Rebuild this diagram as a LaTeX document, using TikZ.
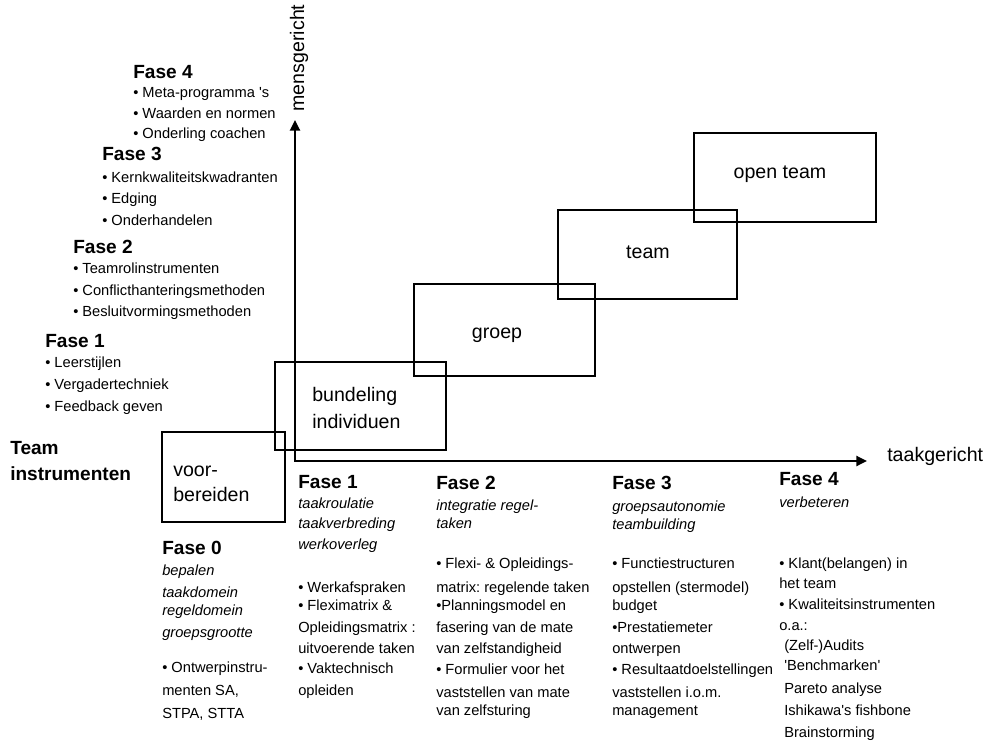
\documentclass[tikz,border=0pt]{standalone}
\usepackage{fontspec}
\setmainfont{Liberation Sans}
\usetikzlibrary{arrows.meta,fit}
\frenchspacing
% one text line per entry: #1 name prefix, #2 x, #3 style, #4 list of y/text
\newcommand\txtcol[4]{%
  \foreach \ly/\lt [count=\li] in {#4} {\node[#3] (#1-\li) at (#2,\ly) {\lt};}}
\newcommand\sq{\textquotesingle}
\begin{document}
\begin{tikzpicture}[x=0.75pt,y=-0.75pt,
  item/.style={anchor=base west, inner sep=0pt, font=\fontsize{11}{13}\selectfont, yshift=-3.75pt},
  ital/.style={item, font=\fontsize{11}{13}\selectfont\itshape},
  head/.style={anchor=base west, inner sep=0pt, font=\fontsize{14.3}{17}\selectfont\bfseries, yshift=-5.25pt},
  lbl/.style={anchor=base west, inner sep=0pt, font=\fontsize{14.7}{17}\selectfont, yshift=-4.5pt},
  clbl/.style={lbl, anchor=base},
  phasebox/.style={draw, line width=0.8pt, inner sep=0pt},
  axis/.style={line width=1.7pt, line join=miter,
    {Triangle[length=8pt,width=7.5pt]}-{Triangle[length=8pt,width=7.5pt]}}]
\useasboundingbox (0,0) rectangle (990,742);
\fill[white] (0,0) rectangle (990,742);

% phase boxes
\path (162,432) coordinate (vb1) (285,522) coordinate (vb2);
\node[phasebox, fit=(vb1)(vb2)] (voorbereiden) {};
\path (275,362) coordinate (bi1) (446,450) coordinate (bi2);
\node[phasebox, fit=(bi1)(bi2)] (bundeling) {};
\path (414,284) coordinate (gr1) (595,376) coordinate (gr2);
\node[phasebox, fit=(gr1)(gr2)] (groep) {};
\path (558,210) coordinate (tm1) (737,299) coordinate (tm2);
\node[phasebox, fit=(tm1)(tm2)] (team) {};
\path (694,133) coordinate (ot1) (876,222) coordinate (ot2);
\node[phasebox, fit=(ot1)(ot2)] (openteam) {};

% box labels
\node[lbl] (vb-l1) at (173,470) {voor-};
\node[lbl] (vb-l2) at (173,495) {bereiden};
\node[lbl] (bi-l1) at (312,395) {bundeling};
\node[lbl] (bi-l2) at (312,422) {individuen};
\node[clbl] (gr-l) at (497,332) {groep};
\node[clbl] (tm-l) at (648,252) {team};
\node[clbl] (ot-l) at (780,173) {open team};

% axes
\coordinate (O) at (295,461);
\coordinate (ytip) at (295,120);
\coordinate (xtip) at (867,461);
\draw[axis] (ytip) -- (O) -- (xtip);
\node[lbl] (taakgericht) at (887,455) {taakgericht};
\node[rotate=90, inner sep=0pt, font=\fontsize{14.7}{17}\selectfont] (mensgericht) at (299,58) {mensgericht};

% team instruments per phase (left column)
\node[head] (ti-h1) at (10,447) {Team};
\node[head] (ti-h2) at (10,473) {instrumenten};

\node[head] (l4-h) at (133,72) {Fase 4};
\txtcol{l4}{133}{item}{93/{• Meta-programma \sq s}, 113/{• Waarden en normen}, 134/{• Onderling coachen}}
\node[head] (l3-h) at (102,154) {Fase 3};
\txtcol{l3}{102}{item}{177/{• Kernkwaliteitskwadranten}, 199/{• Edging}, 220/{• Onderhandelen}}
\node[head] (l2-h) at (73,246) {Fase 2};
\txtcol{l2}{73}{item}{268/{• Teamrolinstrumenten}, 290/{• Conflicthanteringsmethoden}, 311/{• Besluitvormingsmethoden}}
\node[head] (l1-h) at (45,340) {Fase 1};
\txtcol{l1}{45}{item}{362/{• Leerstijlen}, 384/{• Vergadertechniek}, 406/{• Feedback geven}}

% phase descriptions (bottom row)
\node[head] (b0-h) at (162,547) {Fase 0};
\txtcol{b0i}{162}{ital}{570/bepalen, 592/taakdomein, 610/regeldomein, 632/groepsgrootte}
\txtcol{b0}{162}{item}{667/{• Ontwerpinstru-}, 690/{menten SA,}, 713/{STPA, STTA}}

\node[head] (b1-h) at (298,481) {Fase 1};
\txtcol{b1i}{298}{ital}{503/taakroulatie, 523/taakverbreding, 544/werkoverleg}
\txtcol{b1}{298}{item}{587/{• Werkafspraken}, 605/{• Fleximatrix \&}, 627/{Opleidingsmatrix :}, 648/{uitvoerende taken}, 668/{• Vaktechnisch}, 690/{opleiden}}

\node[head] (b2-h) at (436,482) {Fase 2};
\txtcol{b2i}{436}{ital}{505/{integratie regel-}, 523/taken}
\txtcol{b2}{436}{item}{563/{• Flexi- \& Opleidings-}, 587/{matrix: regelende taken}, 605/{•Planningsmodel en}, 627/{fasering van de mate}, 648/{van zelfstandigheid}, 669/{• Formulier voor het}, 692/{vaststellen van mate}, 710/{van zelfsturing}}

\node[head] (b3-h) at (612,482) {Fase 3};
\txtcol{b3i}{612}{ital}{506/groepsautonomie, 524/teambuilding}
\txtcol{b3}{612}{item}{563/{• Functiestructuren}, 587/{opstellen (stermodel)}, 605/{budget}, 627/{•Prestatiemeter}, 648/{ontwerpen}, 669/{• Resultaatdoelstellingen}, 692/{vaststellen i.o.m.}, 710/{management}}

\node[head] (b4-h) at (779,478) {Fase 4};
\txtcol{b4i}{779}{ital}{502/verbeteren}
\txtcol{b4}{779}{item}{563/{• Klant(belangen) in}, 583/{het team}, 604/{• Kwaliteitsinstrumenten}, 625/{o.a.:}}
\txtcol{b4x}{784}{item}{645/{(Zelf-)Audits}, 665/{\sq Benchmarken\sq}, 688/{Pareto analyse}, 710/{Ishikawa\sq s fishbone}, 732/{Brainstorming}}
\end{tikzpicture}
\end{document}
